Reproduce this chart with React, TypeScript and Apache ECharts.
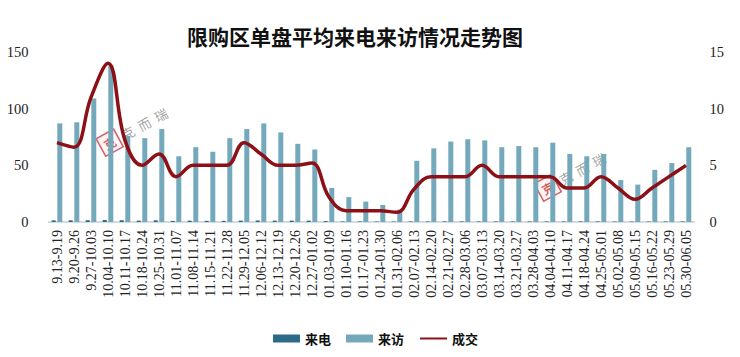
import React, { useEffect, useRef } from 'react';
import * as echarts from 'echarts';

const categories = [
  '9.13-9.19', '9.20-9.26', '9.27-10.03', '10.04-10.10', '10.11-10.17', '10.18-10.24',
  '10.25-10.31', '11.01-11.07', '11.08-11.14', '11.15-11.21', '11.22-11.28', '11.29-12.05',
  '12.06-12.12', '12.13-12.19', '12.20-12.26', '12.27-01.02', '01.03-01.09', '01.10-01.16',
  '01.17-01.23', '01.24-01.30', '01.31-02.06', '02.07-02.13', '02.14-02.20', '02.21-02.27',
  '02.28-03.06', '03.07-03.13', '03.14-03.20', '03.21-03.27', '03.28-04.03', '04.04-04.10',
  '04.11-04.17', '04.18-04.24', '04.25-05.01', '05.02-05.08', '05.09-05.15', '05.16-05.22',
  '05.23-05.29', '05.30-06.05',
];

// 来电 (calls)
const calls = [
  1.5, 1.5, 1.6, 1.8, 1.6, 1.2, 1.5, 1.0, 1.2, 1.0, 1.0, 1.2, 1.3, 1.2, 1.2, 1.2,
  0.8, 0.5, 0.5, 0.4, 0.4, 0.5, 0.5, 0.5, 0.5, 0.5, 0.5, 0.5, 0.5, 0.5, 0.5, 0.5,
  0.5, 0.4, 0.4, 0.4, 0.5, 0.5,
];

// 来访 (visits)
const visits = [
  87, 88, 109, 138, 76, 74, 82, 58, 66, 62, 74, 82, 87, 79, 69, 64, 30, 22, 18, 15,
  11, 54, 65, 71, 73, 72, 66, 67, 66, 70, 60, 58, 60, 37, 33, 46, 52, 66,
];

// 成交 (deals, right axis)
const deals = [
  7, 6.6, 11, 14, 7.2, 5, 6, 4, 5, 5, 5, 7, 6, 5, 5, 5.2, 2.2, 1, 1, 1,
  0.85, 2.9, 4, 4, 4, 5, 4, 4, 4, 4, 3, 3, 4, 3, 2, 3, 4, 5,
];

const SERIF = '"Liberation Serif", "Times New Roman", serif';
const CJK = '"Noto Sans CJK SC", sans-serif';

function watermark(x: number, y: number) {
  return {
    type: 'group',
    x,
    y,
    rotation: 0.5,
    silent: true,
    z: 50,
    children: [
      {
        type: 'rect',
        shape: { x: -24, y: -10, width: 20, height: 20 },
        style: { fill: 'rgba(255,240,240,0.7)', stroke: 'rgba(200,70,80,0.85)', lineWidth: 1.5 },
      },
      {
        type: 'text',
        x: -14,
        y: 0,
        style: {
          text: '克',
          fill: 'rgba(200,70,80,0.85)',
          font: `bold 12px ${CJK}`,
          align: 'center',
          verticalAlign: 'middle',
        },
      },
      {
        type: 'text',
        x: 0,
        y: 0,
        style: {
          text: '克  而  瑞',
          fill: 'rgba(110,110,110,0.65)',
          font: `13px ${CJK}`,
          verticalAlign: 'middle',
        },
      },
    ],
  };
}

export default function App() {
  const ref = useRef<HTMLDivElement>(null);
  useEffect(() => {
    const chart = echarts.init(ref.current!, null, { renderer: 'svg' });
    chart.setOption({
      animation: false,
      backgroundColor: '#ffffff',
      title: {
        text: '限购区单盘平均来电来访情况走势图',
        left: 182,
        top: 20,
        textStyle: { fontSize: 21, fontWeight: 'bold', fontFamily: CJK, color: '#111' },
      },
      legend: {
        left: 268,
        top: 327,
        itemWidth: 27,
        itemHeight: 8,
        itemGap: 15,
        textStyle: { fontSize: 13, fontWeight: 'bold', fontFamily: CJK, color: '#111' },
        data: [
          { name: '来电', icon: 'rect' },
          { name: '来访', icon: 'rect' },
          { name: '成交', itemStyle: { opacity: 0 } },
        ],
      },
      grid: { left: 48.5, right: 45.5, top: 52, bottom: 135, containLabel: false },
      xAxis: {
        type: 'category',
        data: categories,
        axisLine: { show: true, lineStyle: { color: '#c5d0da', width: 1.5 } },
        axisTick: { show: false },
        axisLabel: {
          rotate: 90,
          interval: 0,
          margin: 8,
          fontSize: 14,
          fontFamily: SERIF,
          color: '#222',
        },
      },
      yAxis: [
        {
          type: 'value',
          min: 0,
          max: 150,
          interval: 50,
          splitLine: { show: false },
          axisLine: { show: false },
          axisTick: { show: false },
          axisLabel: { fontSize: 14.5, fontFamily: SERIF, color: '#222', margin: 20 },
        },
        {
          type: 'value',
          min: 0,
          max: 15,
          interval: 5,
          splitLine: { show: false },
          axisLine: { show: false },
          axisTick: { show: false },
          axisLabel: { fontSize: 14.5, fontFamily: SERIF, color: '#222', margin: 15 },
        },
      ],
      series: [
        {
          name: '来电',
          type: 'bar',
          data: calls,
          barWidth: 4,
          barGap: '40%',
          itemStyle: { color: '#2b6a89' },
        },
        {
          name: '来访',
          type: 'bar',
          data: visits,
          barWidth: 5,
          itemStyle: { color: '#74a9bc' },
        },
        {
          name: '成交',
          type: 'line',
          yAxisIndex: 1,
          data: deals,
          smooth: 0.4,
          symbol: 'none',
          lineStyle: { color: '#8c1016', width: 3.5 },
          itemStyle: { color: '#8c1016' },
          z: 5,
        },
      ],
      graphic: [watermark(122, 136), watermark(560, 181)],
    });
    return () => chart.dispose();
  }, []);
  return (
    <div
      ref={ref}
      style={{ width: 740, height: 357, position: 'absolute', left: 0, top: 0 }}
    />
  );
}
